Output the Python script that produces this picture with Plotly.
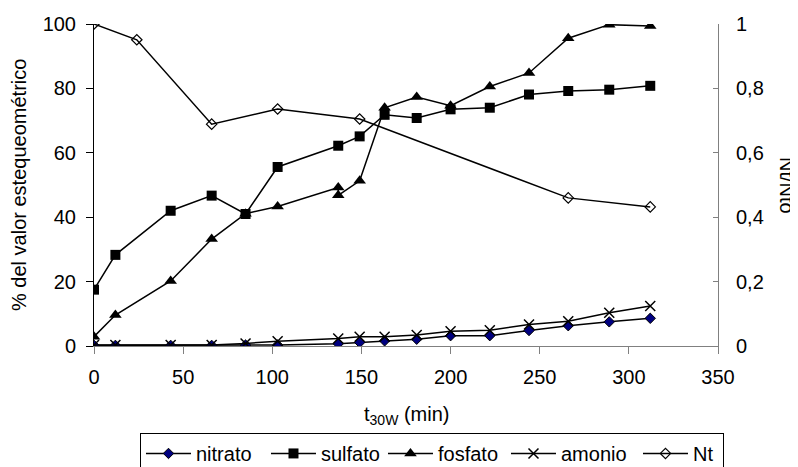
import plotly.graph_objects as go

# ---- data ----
t = [0, 12, 43, 66, 85, 103, 137, 149, 163, 181, 200, 222, 244, 266, 289, 312]
nitrato = [0.2, 0.2, 0.2, 0.2, 0.3, 0.3, 0.7, 1.1, 1.6, 2.1, 3.2, 3.2, 4.8, 6.3, 7.5, 8.6]
sulfato = [17.5, 28.3, 42.0, 46.7, 41.0, 55.6, 62.2, 65.1, 71.8, 70.8, 73.5, 74.0, 78.1, 79.2, 79.6, 80.8]
amonio = [0.3, 0.3, 0.3, 0.3, 0.8, 1.5, 2.3, 2.9, 2.9, 3.4, 4.6, 4.9, 6.7, 7.7, 10.3, 12.4]

t_fosfato = [0, 12, 43, 66, 85, 103, 137, 137, 149, 163, 181, 200, 222, 244, 266, 289, 312]
fosfato = [2.9, 9.6, 20.2, 33.2, 41.1, 43.3, 49.2, 46.8, 51.3, 74.0, 77.3, 74.6, 80.6, 84.8, 95.6, 99.8, 99.4]

t_nt = [0, 24, 66, 103, 149, 266, 312]
nt = [1.0, 0.951, 0.689, 0.736, 0.705, 0.46, 0.432]

x_ticks = [0, 50, 100, 150, 200, 250, 300, 350]
y_ticks = [0, 20, 40, 60, 80, 100]
y2_ticks = [0, 0.2, 0.4, 0.6, 0.8, 1]

FONT = "Liberation Sans, Arial, sans-serif"
FS = 20
LINE = dict(color="black", width=1.5)

fig = go.Figure()
fig.add_trace(go.Scatter(x=t, y=nitrato, name="nitrato", mode="lines+markers", line=LINE,
                         marker=dict(symbol="diamond", size=8, color="#000080",
                                     line=dict(color="black", width=1)),
                         legendwidth=65))
fig.add_trace(go.Scatter(x=t, y=sulfato, name="sulfato", mode="lines+markers", line=LINE,
                         marker=dict(symbol="square", size=10, color="black"),
                         legendwidth=57))
fig.add_trace(go.Scatter(x=t_fosfato, y=fosfato, name="fosfato", mode="lines+markers", line=LINE,
                         marker=dict(symbol="triangle-up", size=11, color="black"),
                         legendwidth=63))
fig.add_trace(go.Scatter(x=t, y=amonio, name="amonio", mode="lines+markers", line=LINE,
                         marker=dict(symbol="x-thin-open", size=10,
                                     line=dict(color="black", width=1.5)),
                         legendwidth=72))
fig.add_trace(go.Scatter(x=t_nt, y=nt, name="Nt", mode="lines+markers", line=LINE,
                         marker=dict(symbol="diamond-open", size=8, color="black",
                                     line=dict(color="black", width=1.2)),
                         yaxis="y2", legendwidth=25))

axis_font = dict(family=FONT, size=FS, color="black")

fig.update_layout(
    width=790, height=459,
    margin=dict(l=86, r=80, t=15.5, b=121, autoexpand=False),
    paper_bgcolor="white", plot_bgcolor="white",
    font=dict(family=FONT, size=FS, color="black"),
    separators=",.",
    showlegend=True,
    legend=dict(orientation="h", x=0.0737, xanchor="left", y=-0.27, yanchor="top",
                bordercolor="black", borderwidth=1, bgcolor="white",
                font=dict(family=FONT, size=FS, color="black"),
                itemwidth=45, itemsizing="trace", traceorder="normal"),
    xaxis=dict(range=[0, 350], tickvals=x_ticks, showgrid=False, zeroline=False,
               showline=True, linecolor="#808080", linewidth=1,
               ticks="outside", ticklen=7, tickcolor="#808080",
               ticklabelstandoff=6, tickfont=axis_font),
    yaxis=dict(range=[0, 100], tickvals=y_ticks, showgrid=False, zeroline=False,
               showline=True, linecolor="black", linewidth=1,
               ticks="outside", ticklen=7, tickcolor="black",
               ticklabelstandoff=6, tickfont=axis_font),
    yaxis2=dict(range=[0, 1], tickvals=y2_ticks, overlaying="y", side="right",
                showgrid=False, zeroline=False,
                showline=True, linecolor="#808080", linewidth=1,
                ticks="inside", ticklen=5, tickcolor="#808080",
                ticklabelstandoff=13, tickfont=axis_font),
    annotations=[
        dict(text="t<sub>30W</sub> (min)", xref="paper", yref="paper", x=0.5, y=-0.217,
             xanchor="center", yanchor="middle", showarrow=False,
             font=dict(family=FONT, size=FS, color="black")),
        dict(text="% del valor estequeométrico", xref="paper", yref="paper", x=-0.1202, y=0.5,
             xanchor="center", yanchor="middle", textangle=-90, showarrow=False,
             font=dict(family=FONT, size=FS, color="black")),
        dict(text="Nt/Nto", xref="paper", yref="paper", x=1.1106, y=0.5,
             xanchor="center", yanchor="middle", textangle=90, showarrow=False,
             font=dict(family=FONT, size=FS, color="black")),
    ],
)

fig.write_html("out.html")
